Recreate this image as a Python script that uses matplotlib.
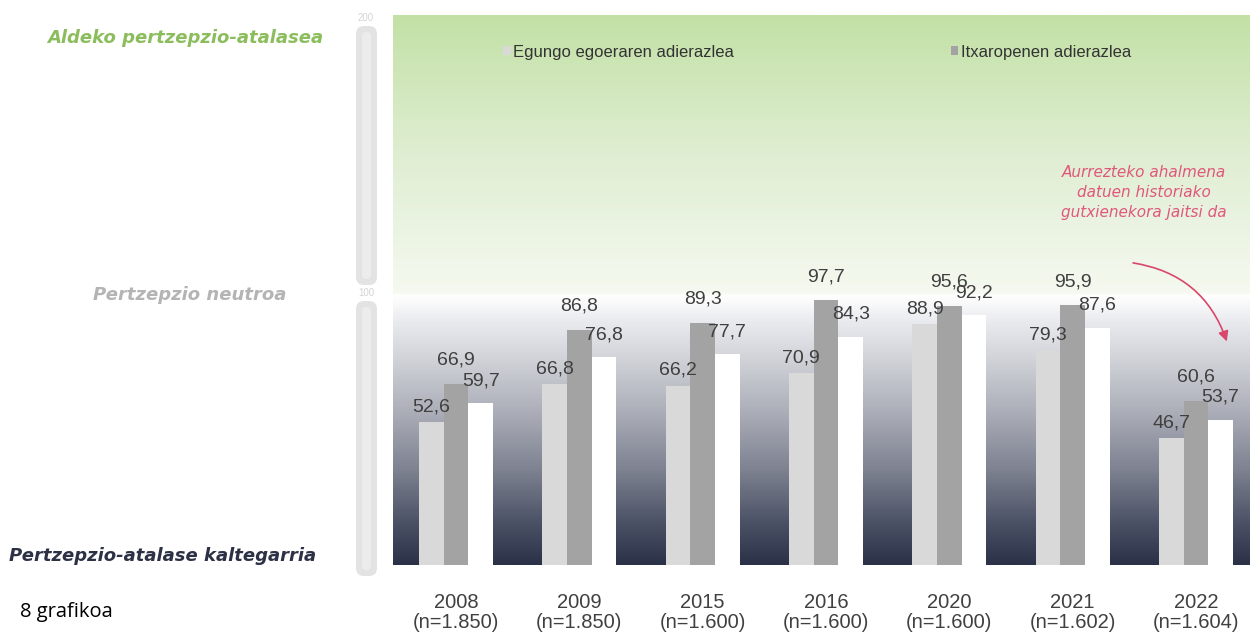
import numpy as np
import matplotlib
matplotlib.use("Agg")
import matplotlib.pyplot as plt
from matplotlib.colors import LinearSegmentedColormap
from matplotlib.patches import FancyBboxPatch, Patch

# ---------------- data ----------------
years = ["2008", "2009", "2015", "2016", "2020", "2021", "2022"]
sample_sizes = ["n=1.850", "n=1.850", "n=1.600", "n=1.600", "n=1.600", "n=1.602", "n=1.604"]
current_situation = [52.6, 66.8, 66.2, 70.9, 88.9, 79.3, 46.7]   # Egungo egoeraren adierazlea
expectations = [66.9, 86.8, 89.3, 97.7, 95.6, 95.9, 60.6]        # Itxaropenen adierazlea
third_index = [59.7, 76.8, 77.7, 84.3, 92.2, 87.6, 53.7]
series_names = ["Egungo egoeraren adierazlea", "Itxaropenen adierazlea"]
scale_ticks = ["200", "100"]
zone_labels = ["Aldeko pertzepzio-atalasea", "Pertzepzio neutroa", "Pertzepzio-atalase kaltegarria"]
note_text = "Aurrezteko ahalmena\ndatuen historiako\ngutxienekora jaitsi da"
caption = "8 grafikoa"

# ---------------- style ----------------
W, H = 1250, 637
fig = plt.figure(figsize=(W / 100, H / 100), dpi=100)
fig.patch.set_facecolor("white")
ARIAL = ["Liberation Sans", "DejaVu Sans"]
HUMAN = ["Open Sans", "Noto Sans", "DejaVu Sans"]
WIDE = ["DejaVu Sans"]

# background axes in pixel coordinates for decorations
bg = fig.add_axes([0, 0, 1, 1], zorder=0)
bg.set_xlim(0, W)
bg.set_ylim(H, 0)
bg.axis("off")

# gauge on the left
for (y0, y1) in [(26, 285), (301, 576)]:
    bg.add_patch(FancyBboxPatch((356, y0), 21, y1 - y0,
                                boxstyle="round,pad=0,rounding_size=8",
                                fc="#e3e3e3", ec="none"))
    bg.add_patch(FancyBboxPatch((362, y0 + 6), 9, y1 - y0 - 12,
                                boxstyle="round,pad=0,rounding_size=4",
                                fc="#ececec", ec="none"))
bg.text(366, 18, scale_ticks[0], ha="center", va="center", fontsize=7, color="#d4d4d4", family=ARIAL)
bg.text(366, 293, scale_ticks[1], ha="center", va="center", fontsize=7, color="#d4d4d4", family=ARIAL)

bg.text(185, 38, zone_labels[0], ha="center", va="center", fontsize=13, fontweight="bold",
        fontstyle="italic", color="#8bbd5c", family=WIDE)
bg.text(190, 295, zone_labels[1], ha="center", va="center", fontsize=13, fontweight="bold",
        fontstyle="italic", color="#b4b4b4", family=WIDE)
bg.text(163, 556, zone_labels[2], ha="center", va="center", fontsize=13, fontweight="bold",
        fontstyle="italic", color="#2d3145", family=WIDE)
bg.text(20, 612, caption, ha="left", va="center", fontsize=14.5, color="black", family=HUMAN)

# main axes
left_px, right_px, top_px, bot_px = 393, 1250, 15, 565
ax = fig.add_axes([left_px / W, 1 - bot_px / H, (right_px - left_px) / W, (bot_px - top_px) / H], zorder=1)
ax.set_xlim(-0.511, 6.438)
ax.set_ylim(0, 203)

# gradient background
stops = [(0, "#2b3147"), (15, "#4b5165"), (35, "#7e8291"), (55, "#a9acb6"),
         (75, "#cfd1d7"), (90, "#eaebef"), (99.4, "#ffffff"), (100.6, "#f5f9f0"),
         (150, "#e0eed3"), (203, "#c3e1a6")]
vmax = 203.0
cmap = LinearSegmentedColormap.from_list("bgcm", [(v / vmax, c) for v, c in stops])
grad = np.linspace(0, vmax, 800).reshape(-1, 1)
ax.imshow(grad, extent=(-0.511, 6.438, 0, vmax), origin="lower", aspect="auto",
          cmap=cmap, vmin=0, vmax=vmax, zorder=0, interpolation="bilinear")

x = np.arange(len(years))
bw = 0.2
series = [current_situation, expectations, third_index]
colors = ["#d9d9d9", "#a3a3a3", "#ffffff"]
offsets = [-bw, 0.0, bw]
label_offsets = [11, 17, 16]
for vals, col, off, lo in zip(series, colors, offsets, label_offsets):
    ax.bar(x + off, vals, width=bw, color=col, edgecolor="none", zorder=2)
    for xi, v in zip(x + off, vals):
        ax.annotate(f"{v:.1f}".replace(".", ","), xy=(xi, v), xytext=(0, lo),
                    textcoords="offset points", ha="center", va="center",
                    fontsize=14, color="#3f3f3f", family=ARIAL, zorder=3)

ax.set_xticks(x)
ax.set_xticklabels([f"{y}\n({n})" for y, n in zip(years, sample_sizes)],
                   fontsize=14.5, color="#404040", family=ARIAL, linespacing=1.1)
ax.tick_params(axis="x", length=0, pad=20)
ax.set_yticks([])
for s in ax.spines.values():
    s.set_visible(False)

# legend
handles = [Patch(facecolor=colors[0], edgecolor="none"), Patch(facecolor=colors[1], edgecolor="none")]
leg = ax.legend(handles, series_names, ncol=2, loc="center", bbox_to_anchor=(0.495, 0.932),
                frameon=False, handlelength=0.45, handleheight=0.45, handletextpad=0.15,
                columnspacing=13.0, prop={"family": ARIAL, "size": 12})
for t in leg.get_texts():
    t.set_color("#333333")

# annotation
ax.text(5.58, 137.5, note_text, ha="center", va="center", fontsize=11, fontstyle="italic",
        color="#e0577a", family=WIDE, linespacing=1.45, zorder=4)
ax.annotate("", xy=(6.25, 82.5), xytext=(5.49, 111.5),
            arrowprops=dict(arrowstyle="-|>,head_length=0.6,head_width=0.3", color="#d9476a",
                            lw=1.2, connectionstyle="arc3,rad=-0.3", shrinkA=0, shrinkB=0),
            zorder=4)

fig.savefig("out.png", dpi=100)
